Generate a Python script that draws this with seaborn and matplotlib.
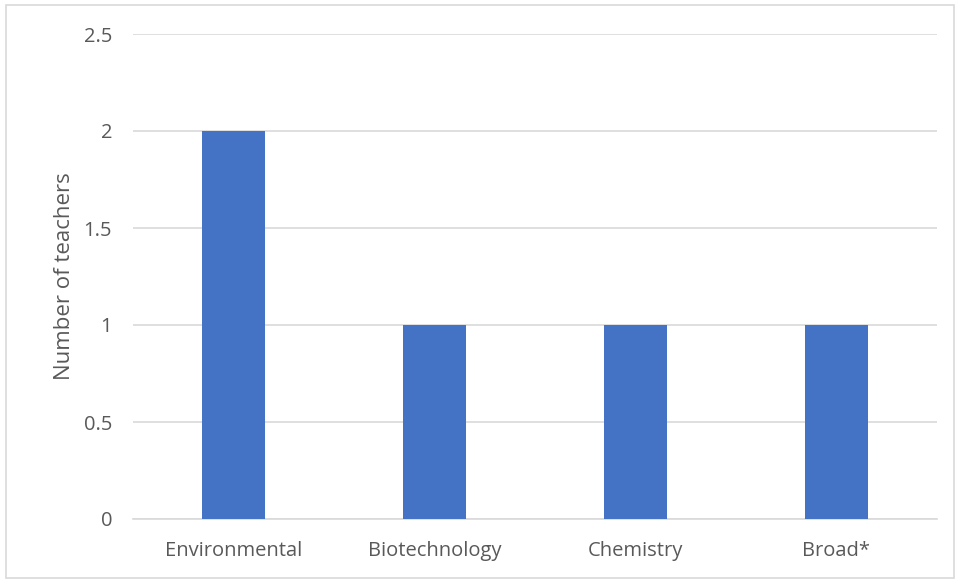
import matplotlib
matplotlib.use("Agg")
import matplotlib.pyplot as plt
from matplotlib.patches import Rectangle
import seaborn as sns
import pandas as pd

categories = ["Environmental", "Biotechnology", "Chemistry", "Broad*"]
teachers = [2, 1, 1, 1]
y_ticks = [0, 0.5, 1, 1.5, 2, 2.5]
y_tick_labels = ["0", "0.5", "1", "1.5", "2", "2.5"]

sns.set_theme(style="white")
plt.rcParams["font.family"] = ["Open Sans", "DejaVu Sans"]

text_color = "#595959"
grid_color = "#D9D9D9"
bar_color = "#4472C4"

df = pd.DataFrame({"category": categories, "teachers": teachers})

fig = plt.figure(figsize=(9.6, 5.8), dpi=100)
ax = fig.add_axes([133 / 960, 1 - 519 / 580, (937 - 133) / 960, (519 - 34) / 580])

sns.barplot(data=df, x="category", y="teachers", color=bar_color,
            width=0.31, saturation=1, linewidth=0, ax=ax, zorder=3)

ax.set_ylim(0, 2.5)
ax.set_xlim(-0.5, len(categories) - 0.5)
ax.set_yticks(y_ticks)
ax.set_yticklabels(y_tick_labels)
ax.yaxis.grid(True, color=grid_color, linewidth=1.2, zorder=0)
ax.xaxis.grid(False)
for side in ["top", "right", "left"]:
    ax.spines[side].set_visible(False)
ax.spines["bottom"].set_color(grid_color)
ax.spines["bottom"].set_linewidth(1.2)
ax.tick_params(axis="both", length=0, labelsize=14.5, labelcolor=text_color)
ax.tick_params(axis="y", pad=15)
ax.tick_params(axis="x", pad=16)
ax.set_xlabel("")
ax.set_ylabel("Number of teachers", fontsize=16, color=text_color, labelpad=6)

# Thin frame around the whole chart
fig.patches.append(Rectangle((6 / 960, 2 / 580), 948 / 960, 573 / 580,
                             transform=fig.transFigure, fill=False,
                             edgecolor="#D9D9D9", linewidth=1.2))

fig.savefig("out.png", dpi=100, facecolor="white")
